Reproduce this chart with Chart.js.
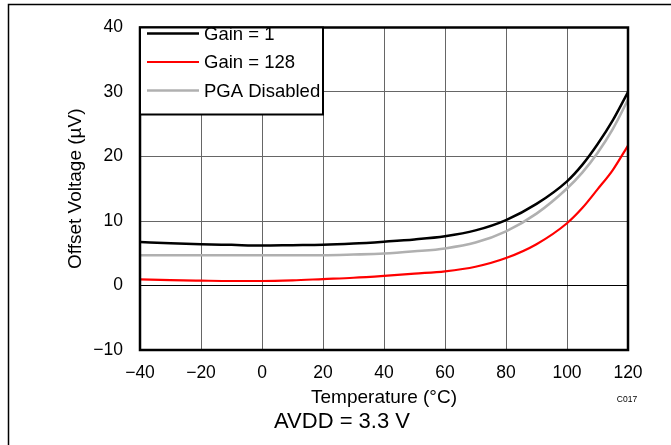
<!DOCTYPE html>
<html><head><meta charset="utf-8">
<script src="https://cdn.jsdelivr.net/npm/chart.js@4.4.1/dist/chart.umd.min.js"></script>
<style>html,body{margin:0;padding:0;background:#fff}canvas{display:block}</style>
</head><body>
<canvas id="c" width="671" height="445"></canvas>
<script>
const temperatures = [-40,-30,-20,-10,0,10,20,30,40,50,60,70,80,90,100,105,110,115,120];
const gain1       = [6.75,6.55,6.4,6.3,6.2,6.25,6.3,6.5,6.8,7.15,7.65,8.55,10.15,12.65,16.15,18.7,21.9,25.6,30.0];
const gain128     = [0.95,0.82,0.75,0.7,0.7,0.8,1.0,1.2,1.5,1.85,2.2,2.9,4.25,6.4,9.65,12.0,14.9,17.9,21.7];
const pgaDisabled = [4.7,4.7,4.7,4.7,4.7,4.7,4.7,4.8,4.95,5.3,5.75,6.65,8.4,11.15,15.05,17.5,20.55,24.25,28.8];
const seriesLabels = ['Gain = 1','Gain = 128','PGA Disabled'];
const xTicks = [-40,-20,0,20,40,60,80,100,120];
const yTicks = [-10,0,10,20,30,40];
const xTitle = 'Temperature (°C)';
const yTitle = 'Offset Voltage (µV)';
const noteText = 'AVDD = 3.3 V';
const codeText = 'C017';

const FONT = "'Liberation Sans', Arial, Helvetica, sans-serif";
const colors = ['#000000','#ff0000','#b0b0b0'];
const widths = [2.5,2.2,2.6];
const seriesValues = [gain1, gain128, pgaDisabled];

const fmt = v => String(v).replace('-', '\u2212');

const framePlugin = {
  id: 'frame',
  beforeDraw(chart) {
    const ctx = chart.ctx;
    ctx.save();
    ctx.fillStyle = '#fff';
    ctx.fillRect(0, 0, chart.width, chart.height);
    ctx.strokeStyle = '#000';
    ctx.lineWidth = 1.5;
    ctx.beginPath();
    ctx.moveTo(8.5, chart.height);
    ctx.lineTo(8.5, 4.5);
    ctx.lineTo(chart.width, 4.5);
    ctx.stroke();
    ctx.restore();
  },
  afterDraw(chart) {
    const ctx = chart.ctx;
    const a = chart.chartArea;
    ctx.save();
    ctx.strokeStyle = '#000';
    ctx.lineWidth = 2.5;
    ctx.strokeRect(a.left, a.top, a.right - a.left, a.bottom - a.top);
    const lx = a.left, ly = a.top, lw = 183, lh = 87;
    ctx.fillStyle = '#fff';
    ctx.fillRect(lx, ly, lw, lh);
    ctx.lineWidth = 2;
    ctx.strokeRect(lx, ly, lw, lh);
    const rows = [33.5, 62, 90.5];
    ctx.font = '18.5px ' + FONT;
    ctx.textBaseline = 'middle';
    ctx.textAlign = 'left';
    chart.data.datasets.forEach((ds, i) => {
      ctx.strokeStyle = ds.borderColor;
      ctx.lineWidth = ds.borderWidth;
      ctx.beginPath();
      ctx.moveTo(147, rows[i]);
      ctx.lineTo(199, rows[i]);
      ctx.stroke();
      ctx.fillStyle = '#000';
      ctx.fillText(ds.label, 204, rows[i] + 1);
    });
    ctx.font = '8.5px ' + FONT;
    ctx.textAlign = 'center';
    ctx.fillText(codeText, 627, 400);
    ctx.font = '22px ' + FONT;
    ctx.fillText(noteText, 342, 422);
    ctx.restore();
  }
};

new Chart(document.getElementById('c'), {
  type: 'line',
  data: {
    datasets: seriesValues.map((vals, i) => ({
      label: seriesLabels[i],
      data: temperatures.map((t, j) => ({x: t, y: vals[j]})),
      borderColor: colors[i],
      borderWidth: widths[i],
      pointRadius: 0,
      fill: false,
      cubicInterpolationMode: 'monotone'
    }))
  },
  options: {
    responsive: false,
    animation: false,
    devicePixelRatio: 1,
    layout: { padding: { top: 18, right: 43, bottom: 0, left: 0 } },
    plugins: { legend: { display: false }, tooltip: { enabled: false } },
    scales: {
      x: {
        type: 'linear', min: -40, max: 120,
        afterBuildTicks: s => { s.ticks = xTicks.map(v => ({value: v})); },
        afterFit: s => { s.height = 95; },
        grid: { color: '#666666', lineWidth: 1, drawTicks: false },
        border: { display: false },
        ticks: { color: '#000', font: { family: FONT, size: 17.5 }, padding: 13, maxRotation: 0, callback: v => fmt(v) },
        title: { display: true, text: xTitle, color: '#000', font: { family: FONT, size: 19 }, padding: { top: 0, bottom: 35.5 } }
      },
      y: {
        type: 'linear', min: -10, max: 40,
        afterBuildTicks: s => { s.ticks = yTicks.map(v => ({value: v})); },
        afterFit: s => { s.width = 140; },
        grid: { color: ctx => (ctx.tick && ctx.tick.value === 0) ? '#000' : '#666666', lineWidth: 1, drawTicks: false },
        border: { display: false },
        ticks: { color: '#000', font: { family: FONT, size: 17.5 }, padding: 17, callback: v => fmt(v) },
        title: { display: true, text: yTitle, color: '#000', font: { family: FONT, size: 19 }, padding: { top: 64.5, bottom: 0 } }
      }
    }
  },
  plugins: [framePlugin]
});
</script>
</body></html>
